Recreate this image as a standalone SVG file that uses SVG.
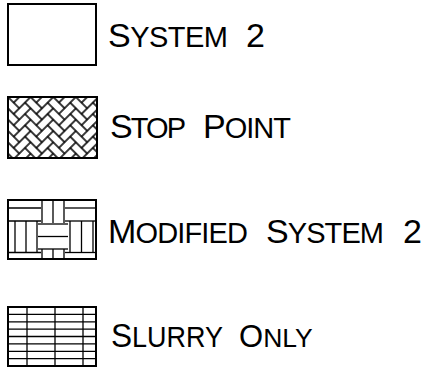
<svg xmlns="http://www.w3.org/2000/svg" width="426" height="368" viewBox="0 0 426 368">
  <style>
    .box { fill: none; stroke: #000; stroke-width: 2; }
    .ln { stroke: #000; stroke-width: 1.3; fill: none; }
    .lbl { font-family: "Liberation Sans", Arial, sans-serif; fill: #000; }
    .big { font-size: 34px; }
    .sm { font-size: 29px; }
    .brick { fill: none; stroke: #000; stroke-width: 0.13; }
  </style>
  <defs>
    <pattern id="herring" patternUnits="userSpaceOnUse" width="4" height="4" patternTransform="translate(8,97) rotate(45) scale(8)">
      <rect x="0" y="0" width="4" height="4" fill="#fff"/>
      <g class="brick">
        <rect x="-1" y="-1" width="2" height="1"/>
        <rect x="0" y="0" width="2" height="1"/>
        <rect x="1" y="1" width="2" height="1"/>
        <rect x="2" y="2" width="2" height="1"/>
        <rect x="3" y="3" width="2" height="1"/>
        <rect x="4" y="4" width="2" height="1"/>
        <rect x="3" y="-1" width="2" height="1"/>
        <rect x="4" y="0" width="2" height="1"/>
        <rect x="-2" y="2" width="2" height="1"/>
        <rect x="-1" y="3" width="2" height="1"/>
        <rect x="0" y="4" width="2" height="1"/>
        <rect x="1" y="-2" width="1" height="2"/>
        <rect x="2" y="-1" width="1" height="2"/>
        <rect x="3" y="0" width="1" height="2"/>
        <rect x="4" y="1" width="1" height="2"/>
        <rect x="-1" y="0" width="1" height="2"/>
        <rect x="0" y="1" width="1" height="2"/>
        <rect x="1" y="2" width="1" height="2"/>
        <rect x="2" y="3" width="1" height="2"/>
        <rect x="3" y="4" width="1" height="2"/>
        <rect x="-1" y="4" width="1" height="2"/>
      </g>
    </pattern>
    <clipPath id="clip3"><rect x="8" y="200" width="88" height="59"/></clipPath>
  </defs>

  <g id="system2">
    <rect class="box" x="8" y="4" width="88" height="61"/>
    <text class="lbl" x="108" y="47" textLength="120" lengthAdjust="spacing"><tspan class="big">S</tspan><tspan class="sm">YSTEM</tspan></text>
    <text class="lbl big" x="246" y="47">2</text>
  </g>

  <g id="stop-point">
    <rect x="8" y="97" width="89" height="61" fill="url(#herring)"/>
    <rect class="box" x="8" y="97" width="89" height="61"/>
    <text class="lbl" x="110" y="138" textLength="76" lengthAdjust="spacing"><tspan class="big">S</tspan><tspan class="sm">TOP</tspan></text>
    <text class="lbl" x="203" y="138" textLength="88" lengthAdjust="spacing"><tspan class="big">P</tspan><tspan class="sm">OINT</tspan></text>
  </g>

  <g id="modified-system2">
    <g clip-path="url(#clip3)" class="ln">
      <line x1="8" y1="208" x2="41" y2="208"/>
      <line x1="8" y1="221" x2="41" y2="221"/>
      <line x1="42" y1="200" x2="42" y2="223"/>
      <line x1="53" y1="200" x2="53" y2="223"/>
      <line x1="64" y1="200" x2="64" y2="223"/>
      <line x1="65" y1="208" x2="96" y2="208"/>
      <line x1="65" y1="221" x2="96" y2="221"/>
      <line x1="15" y1="221" x2="15" y2="252"/>
      <line x1="26" y1="221" x2="26" y2="252"/>
      <line x1="37" y1="221" x2="37" y2="252"/>
      <line x1="38" y1="224" x2="68" y2="224"/>
      <line x1="38" y1="236.5" x2="68" y2="236.5"/>
      <line x1="38" y1="249" x2="68" y2="249"/>
      <line x1="70" y1="221" x2="70" y2="252"/>
      <line x1="81.5" y1="221" x2="81.5" y2="252"/>
      <line x1="93" y1="221" x2="93" y2="252"/>
      <line x1="8" y1="252.5" x2="41" y2="252.5"/>
      <line x1="65" y1="252.5" x2="96" y2="252.5"/>
      <line x1="42" y1="249" x2="42" y2="259"/>
      <line x1="53" y1="249" x2="53" y2="259"/>
      <line x1="64" y1="249" x2="64" y2="259"/>
    </g>
    <rect class="box" x="8" y="200" width="88" height="59"/>
    <text class="lbl" x="108" y="243" textLength="140" lengthAdjust="spacing"><tspan class="big">M</tspan><tspan class="sm">ODIFIED</tspan></text>
    <text class="lbl" x="266" y="243" textLength="118" lengthAdjust="spacing"><tspan class="big">S</tspan><tspan class="sm">YSTEM</tspan></text>
    <text class="lbl big" x="403" y="243">2</text>
  </g>

  <g id="slurry-only">
    <g class="ln">
      <line x1="27" y1="307" x2="27" y2="366"/>
      <line x1="55" y1="307" x2="55" y2="366"/>
      <line x1="83" y1="307" x2="83" y2="366"/>
      <line x1="8" y1="314.4" x2="96" y2="314.4"/>
      <line x1="8" y1="321.8" x2="96" y2="321.8"/>
      <line x1="8" y1="329.1" x2="96" y2="329.1"/>
      <line x1="8" y1="336.5" x2="96" y2="336.5"/>
      <line x1="8" y1="343.9" x2="96" y2="343.9"/>
      <line x1="8" y1="351.3" x2="96" y2="351.3"/>
      <line x1="8" y1="358.6" x2="96" y2="358.6"/>
    </g>
    <rect class="box" x="8" y="307" width="88" height="59"/>
    <text class="lbl" x="111" y="347" textLength="112" lengthAdjust="spacingAndGlyphs"><tspan class="big">S</tspan><tspan class="sm">LURRY</tspan></text>
    <text class="lbl" x="239" y="347"><tspan style="font-size:31px">O</tspan><tspan style="font-size:26.5px">NLY</tspan></text>
  </g>
</svg>
